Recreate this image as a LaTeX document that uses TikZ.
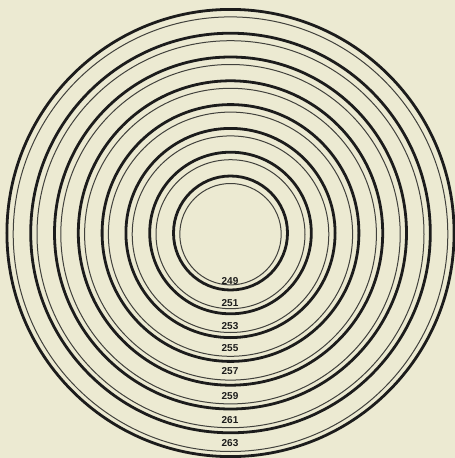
\documentclass[tikz,border=0pt]{standalone}
\usepackage{fontspec}
\setmainfont{Liberation Sans}
\definecolor{paper}{RGB}{236,234,210}
\definecolor{ink}{RGB}{28,28,28}
\definecolor{thinink}{RGB}{65,65,60}
\tikzset{
  thickring/.style={draw=ink, line width=2.8pt},
  thinring/.style={draw=thinink, line width=1pt},
  ringlabel/.style={font=\bfseries\fontsize{10}{11}\selectfont, text=ink, inner sep=0pt}
}
\begin{document}
\begin{tikzpicture}[x=1pt,y=-1pt]
\fill[paper] (0,0) rectangle (455,458);
\useasboundingbox (0,0) rectangle (455,458);
\foreach \i in {0,...,7}{
  \pgfmathsetmacro{\r}{57+23.8*\i}
  \pgfmathsetmacro{\rt}{\r-6.3}
  \draw[thickring] (230.5,233) circle (\r);
  \draw[thinring] (230.5,234.2) circle (\rt);
}
\node[ringlabel] (l249) at (230,281) {249};
\node[ringlabel] (l251) at (230,303) {251};
\node[ringlabel] (l253) at (230,326) {253};
\node[ringlabel] (l255) at (230,348) {255};
\node[ringlabel] (l257) at (230,371) {257};
\node[ringlabel] (l259) at (230,396) {259};
\node[ringlabel] (l261) at (230,420) {261};
\node[ringlabel] (l263) at (230,443) {263};
\end{tikzpicture}
\end{document}
